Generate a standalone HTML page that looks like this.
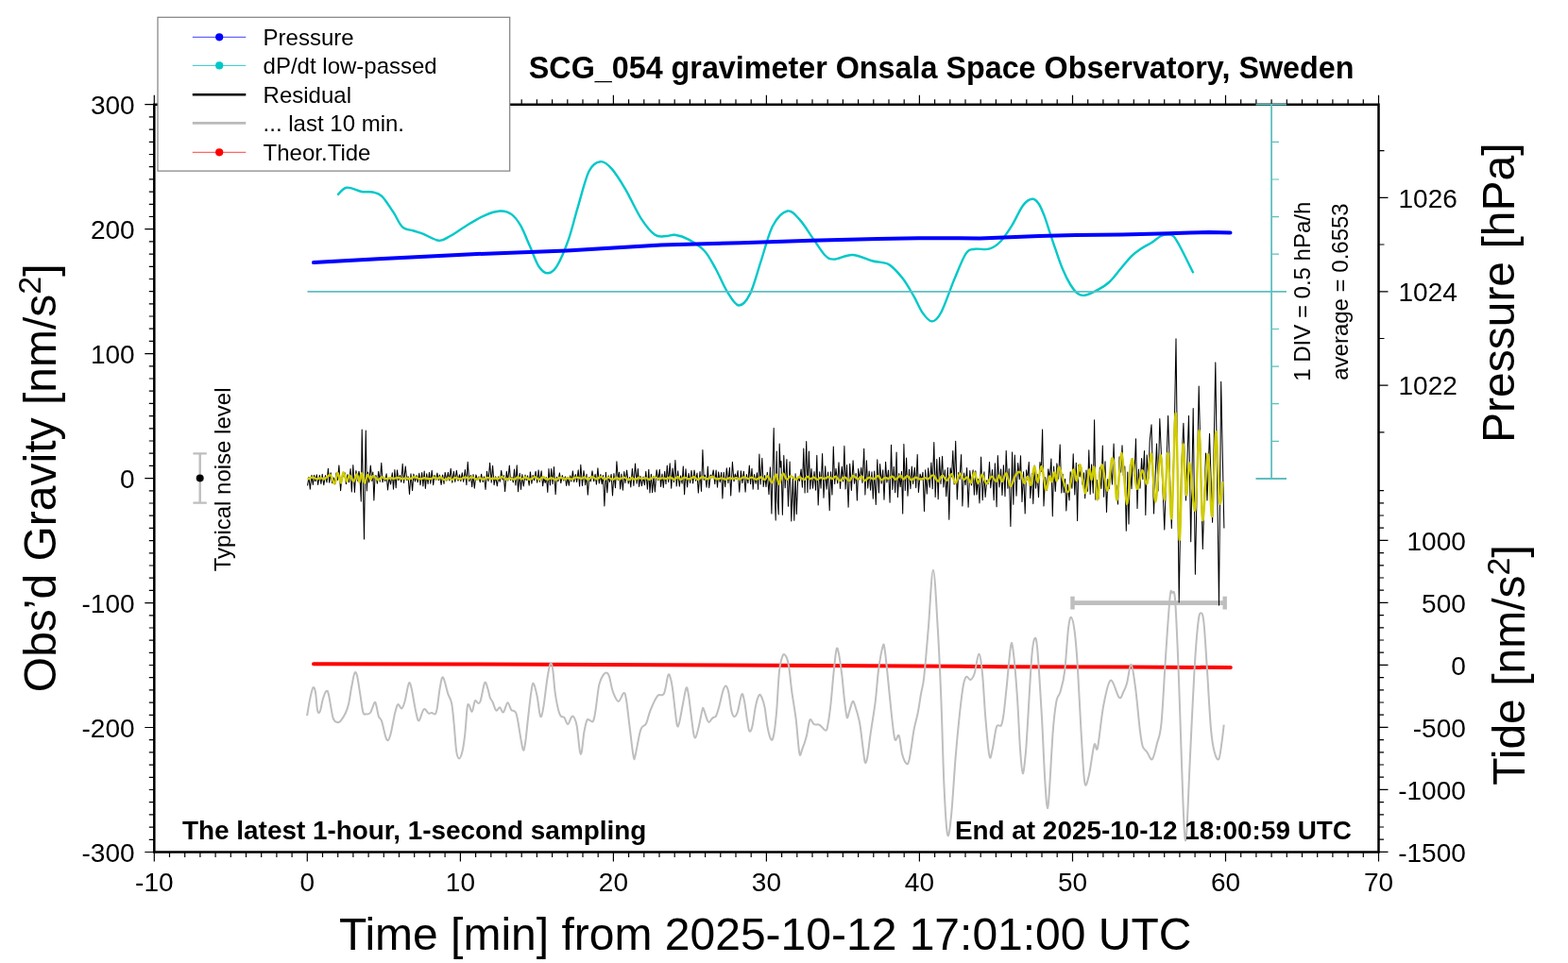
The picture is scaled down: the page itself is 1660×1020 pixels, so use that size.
<!DOCTYPE html><html><head><meta charset="utf-8"><style>html,body{margin:0;padding:0;background:#fff;}svg{display:block;}</style></head><body>
<svg width="1660" height="1020" viewBox="0 0 1660 1020" font-family="Liberation Sans, Arial, Helvetica, sans-serif">
<rect width="1660" height="1020" fill="#fff"/>
<g stroke="#bebebe" stroke-width="2.4" fill="none"><path d="M211.7 480.4V532.6M204.4 480.4H218.8M204.4 532.6H218.8"/></g>
<circle cx="211.7" cy="506.4" r="4" fill="#000"/>
<text transform="translate(243.7,605.3) rotate(-90)" font-size="24">Typical noise level</text>
<g fill="#bebebe"><rect x="1135" y="636.2" width="162" height="4.8"/><rect x="1133.3" y="631.7" width="4.4" height="13.8"/><rect x="1294.5" y="631.7" width="4.4" height="13.8"/></g>
<polyline points="325.5,514.3 327,505.4 328.3,518.3 330,503.2 331.3,513.5 332.6,503.3 333.8,509.8 335.3,502.8 336.6,513.5 338.3,503.4 339.9,512.4 341.2,502.3 342.8,513.7 344.5,503.5 346,511 347.4,496.3 348.7,511.2 350.1,500.7 351.7,511.6 353.2,505.9 354.8,512.6 356.1,500.9 357.4,508.5 358.9,492.9 360.6,519.8 361.9,505 363.6,504.5 365,500.7 366.4,512.7 367.9,502.7 369.5,510.8 371.1,496.6 372.3,521 373.8,492.5 375.4,521.4 376.9,498.6 378.5,509.4 380,499.2 381,505 382.3,531 383.2,455 384.3,510 385.5,571 386.4,505 387.3,456 388.3,520 389.5,500 390.7,510.9 392.3,493.1 393.8,509.4 394.8,500 395.9,530 397,505 398,503.6 399.4,512.1 400.7,499.3 402.3,510.2 403.8,490.3 405,510.8 406.3,505.4 407.8,509.7 409.1,501.8 410.5,519 411.9,506.1 413.6,513 415.3,500.7 416.5,518.3 417.9,497.6 419.2,516.8 420.5,497.9 421.9,508.8 423.4,503.5 424.8,510.7 426.2,491.3 427.6,511.4 429.2,493.9 430.8,508.6 432.1,504.7 433.5,523.4 435,501.7 436.6,519.6 437.9,502 439.4,509.9 441,503.6 442.2,510.8 443.8,501.3 445,513.8 446.7,500.6 447.9,514.9 449.2,499.1 450.4,517.4 451.7,501.7 453.1,512.5 454.5,500.4 455.8,512.2 457.2,498.3 458.7,513.7 460,503.4 461.5,508.2 462.9,501.1 464.2,508.7 465.4,503.1 467.1,513.5 468.6,503 470,512.5 471.2,500.4 472.9,509.2 474.4,500.3 475.8,509 477.2,496.2 478.8,511.3 480.4,499.4 481.8,510.5 483.3,498.2 484.9,509.3 486.5,502.8 487.8,509.7 489.3,500.8 490.7,510.3 492.4,497.6 493.9,513.6 495.2,489.2 496.8,509.9 498.4,503.4 499.7,515.6 501,502.6 502.3,517.2 503.9,502.9 505.5,508.2 507,504.9 508.3,510.8 509.6,502.2 511.1,510.4 512.5,504.9 514,518.5 515.5,499.2 517,509.7 518.6,490.2 520.2,511.1 521.6,493.3 523.1,513.7 524.7,504.7 526.3,514.8 527.8,504.8 529.3,510.3 530.7,498.4 532,508.1 533.3,503.6 534.6,520.6 536.3,499.2 537.7,509.3 539.3,493.1 540.5,508.4 542,505.6 543.3,511 544.5,497 545.9,513.9 547.2,492.8 548.5,520.7 550.2,501.3 551.5,518.4 552.8,502.5 554.3,515 556,503 557.3,508.6 558.5,503.9 560.2,514.1 561.4,499.9 562.9,512.2 564.2,503.4 565.5,508.8 567.1,499.3 568.7,511.3 570.1,497.9 571.4,510.3 573.1,498.8 574.6,514.8 575.9,506 577.2,511.5 578.5,505.7 579.8,521.5 581,496.5 582.4,513.9 583.7,496.5 585.1,512.6 586.5,494.5 588.1,523.8 589.4,505.2 590.9,509.8 592.4,500.9 593.8,511.6 595.3,503.6 596.8,509.1 598.4,504.9 599.6,514.5 601,505.6 602.3,514.2 603.7,503.8 605,509.9 606.4,498.9 607.7,510.4 609.3,502.5 610.6,510.4 612.2,497.8 613.6,515.1 614.8,492.2 616.5,514.4 618,498.5 619.7,513.7 621,502.3 622.3,524.1 623.8,505.4 625.3,510 627,498.8 628.7,509.8 630.1,502.3 631.4,513.1 632.9,495.7 634.3,512 635.9,502.6 637.2,512.8 638.5,503.6 639.9,536 641.4,500.2 642.8,522 644.2,503.8 645.5,510.5 647.1,502.4 648.5,524.9 649.9,501.6 651.5,516.8 652.9,488.8 654.3,508.5 655.5,500.2 656.7,517.9 658,502.1 659.4,519.3 660.8,499.5 662,511.5 663.6,498.1 665.2,512.2 666.6,505.5 667.8,515.9 669.4,496.4 670.9,514.5 672.5,491.1 674.1,512.2 675.4,496.6 676.6,515.4 678,504.4 679.4,514.6 681,505 682.4,513.7 683.8,499.2 685.4,518.3 686.8,497.2 688,522 689.4,502.3 690.6,521.8 692.1,504.4 693.4,520.9 695.1,497.7 696.8,508.7 698.3,497.3 699.6,515.5 701,502 702.3,516.5 703.7,499.3 705,512.8 706.3,493.1 707.7,510.7 709.2,490.8 710.7,517.3 712,496.1 713.4,510.6 714.9,487.4 716.2,515 717.7,498.8 719.3,515.2 720.6,503.9 722.1,512.1 723.3,493.9 724.6,523.8 726,496.7 727.6,515.9 729.1,501.3 730.6,511.4 732,498.4 733.6,511.9 735,498.1 736.6,509.3 738,501.1 739.3,522.1 741,499.6 742.5,520.4 743.9,476.5 745.2,508.3 746.4,503.1 748.1,516.1 749.3,494.1 750.7,516.8 752.3,503 753.8,505.8 755.2,497.9 756.8,512.6 758.1,498 759.5,516.1 760.7,499.9 762.2,510.7 763.7,500.4 764.9,527.9 766.2,500.2 767.7,515.8 769.3,495.7 770.9,511.6 772.4,495.3 773.7,524.9 775.4,489.2 777,510 778.3,502 779.7,507.4 781.1,498.5 782.8,521.2 784.4,498.7 785.8,511.6 787.4,499.2 789.1,521.1 790.4,502.5 791.9,511.7 793.3,493 794.6,512.7 796,496.2 797.2,518.1 798.5,502.6 800.1,512.2 801.4,500.7 802.6,518.4 803.9,481 805.2,512.9 806.8,485.3 808.2,515.4 809.6,503.5 811,515.6 812.3,500.3 814,523.7 815.4,494.9 816.9,543.9 818.2,490 819.2,453.4 820.2,520 821.2,551 822.2,478 823.2,530 824.2,545 825.2,470 826.2,495 827,488.5 828.4,545.3 829.8,482.4 831.2,516.8 832.9,486.5 834.5,536.2 836.1,489 837.8,552 839.4,506.4 840.8,551.3 842.1,501.7 843.3,544.6 844.8,505.2 846.4,509.5 848.1,497 849.4,516.3 850.8,475 852.1,522 853.7,467.5 854.9,521.5 856.4,478.1 857.7,517.9 859,496.6 860.5,517.3 862,499.6 863.6,519.2 864.8,482.2 866.2,535 867.7,499.7 869.1,517.2 870.6,480.6 872,527.2 873.7,493.7 875,518.1 876.6,500 878.2,540.7 879.6,499.8 881,524.1 882.3,473.1 883.7,512.6 885,496.3 886.7,511.9 888,489.8 889.5,517.5 891.2,494.3 892.6,510.1 893.9,472.4 895.1,518 896.5,492.6 898.1,537.2 899.7,491.3 901.4,519.5 903.1,487.7 904.5,512.3 906.2,501.4 907.4,530.1 908.7,496.6 910.2,508 911.8,495.2 913,511.4 914.7,475.3 915.9,524.1 917.4,487.8 918.7,517.1 920.2,499.1 921.6,519.3 923,499.8 924.3,528.2 925.7,499 927.3,534.5 928.8,486.8 930.4,521.9 931.6,491.6 933.2,512.1 934.7,497.7 936,529.2 937.6,489.3 938.9,511 940.5,498 942.1,532.2 943.5,471.2 944.9,518.5 946.3,494.3 947.7,521.8 949.1,479 950.4,526.6 951.8,501.6 953.2,515.7 954.5,499.4 955.7,544 956.9,470.4 958.3,519.4 959.6,485.1 961,525.2 962.5,497.2 963.9,517.6 965.3,494 966.6,512.4 968.3,495.2 969.7,516.6 971.2,481.4 972.4,521.4 974.1,502.1 975.8,508 977,500.2 978.5,541.6 979.7,497.7 981.3,523.1 982.7,495.8 984.3,516.3 985.9,490 987.2,517.8 988.8,468.5 990.2,526.4 991.8,486.4 993.2,528.7 994.6,484.5 996,512.4 997.6,483.3 998.9,516 1000.3,497.8 1001.8,525.6 1003.3,495.3 1004.8,550.3 1006.1,495.7 1007.5,505 1008.8,477.5 1010.2,513 1011.7,467.2 1013.3,528.9 1014.7,500.6 1016,507.5 1017.6,481.5 1018.9,535.9 1020.5,501.1 1022.1,513.7 1023.6,495.6 1025.1,537.2 1026.8,498.5 1028.5,513.9 1030.1,497.7 1031.4,524.1 1032.8,498.8 1034,523.9 1035.4,507.4 1037,532.9 1038.6,484.1 1040.2,529.7 1041.9,499.8 1043.1,526.5 1044.7,508.9 1046.1,512.8 1047.5,489.4 1048.8,516.8 1050.5,497.5 1052.2,529.8 1053.4,490.7 1055.1,536.8 1056.3,482.5 1058,516 1059.6,496.9 1061,524.5 1062.4,492.8 1064,525.8 1065.2,477.4 1066.9,517.3 1068.2,496.6 1069.9,557.5 1071.6,478.9 1072.8,534.3 1074.3,482 1076,525.3 1077.7,490.6 1079.3,507.7 1080.5,482.7 1082,531.4 1083.6,499.8 1085.2,543.9 1086.6,497.8 1087.8,508.3 1089.3,489.4 1090.8,527.5 1092.5,501.5 1093.8,533.6 1095.2,493 1096.5,517.1 1098.1,502.2 1099.5,526.8 1101,489.6 1102.3,499.4 1103.6,454.9 1105,536 1106.6,505.6 1108.2,519.6 1109.8,496.7 1111.3,507.5 1112.9,485.9 1114.3,546.7 1115.6,494.1 1117.3,520.5 1118.9,490.9 1120.6,507.3 1122.2,470.9 1123.8,522.1 1125.1,502.3 1126.3,521.6 1127.6,507.3 1128.8,540.9 1130.3,513.1 1132,529.9 1133.2,499.8 1134.9,517.3 1136.2,480.7 1137.8,524 1139.3,490.2 1140.6,551.6 1141.8,492.6 1143.1,504.9 1144.6,494.7 1146,513.2 1147.5,500.8 1148.7,527.8 1150,498 1151.5,520.3 1152.8,476.8 1154.2,523.5 1155.6,491.9 1157.3,522.2 1158.6,444.8 1159.9,529.3 1161.2,508.3 1162.9,528.4 1164.4,494.9 1165.9,517.5 1167.3,472 1168.6,526.2 1170,488.8 1171.5,542.5 1172.8,507.6 1174.4,517.6 1176,494.2 1177.5,513.1 1179.1,470.1 1180.5,515.7 1181.9,514 1183.5,534.1 1185.1,483.7 1186.7,500.2 1188,471.8 1189.3,503.8 1190.8,493.9 1192.3,562.3 1193.8,500 1195,554.9 1196.4,492.3 1198,517.8 1199.2,486 1200.9,504.3 1202.5,464.7 1204,538.4 1205.4,497.1 1207,517.1 1208.6,485.6 1209.9,507.8 1211.5,477.5 1212.8,545.5 1214.2,481.9 1215.9,506.7 1217.2,467.4 1219,449.8 1221.5,543.9 1224.5,470 1226,520 1227.8,443.5 1232.8,561.1 1236.6,440.4 1240.3,559.6 1243,470 1245,358.8 1248.2,638 1250.5,500 1252.9,448.2 1255.5,530 1258.5,440.4 1260.7,573.7 1263.2,432.5 1265.4,608.2 1269.2,409 1273.3,581.5 1276.5,480 1278,530 1280.5,459.2 1283.6,553.3 1286.8,383.9 1290.5,641.1 1292.7,404.3 1295.9,559.6" fill="none" stroke="#000" stroke-width="1.05" stroke-linejoin="round"/>
<path d="M325.5 507.5C326.4 507.2 329.2 505.7 330.8 505.7C332.4 505.6 333.8 507.1 335.3 507.2C336.8 507.3 338.5 506.2 339.9 506.2C341.2 506.2 342 507.6 343.6 507.1C345.3 506.7 348 502.5 349.8 503.4C351.6 504.3 353 513 354.3 512.5C355.6 512 356.4 500.8 357.5 500.7C358.6 500.6 360.1 511.7 361.1 511.6C362.1 511.5 362.4 500.6 363.4 500.3C364.4 500 365.9 509.2 367 509.7C368.1 510.2 368.9 503.4 370.1 503.4C371.3 503.4 372.9 509.9 374.2 509.7C375.5 509.5 376.8 501.9 377.8 502.1C378.9 502.3 379.6 510.9 380.5 510.7C381.4 510.5 382.3 501 383.2 501.2C384.1 501.4 384.9 511.3 385.9 511.6C386.9 511.9 388 503.6 389.1 503C390.2 502.4 391.3 507.8 392.3 507.9C393.3 508 393.8 503.9 395 503.9C396.2 503.9 398.5 507.2 399.5 507.9C400.5 508.6 400.4 508.6 401.2 508.2C402 507.8 403.2 505.6 404.3 505.4C405.5 505.3 406.5 507 408 507.1C409.5 507.2 411.9 506.3 413.4 506.2C414.9 506.1 415.6 506.8 417 506.8C418.5 506.7 420.5 505.9 422 506C423.6 506.1 424.9 507.2 426.2 507.2C427.4 507.3 428.3 506.2 429.5 506.2C430.7 506.3 432 507.4 433.5 507.3C435.1 507.1 437.2 505.2 439 505.2C440.7 505.2 442.4 507.1 444.2 507.3C445.9 507.4 447.5 506.2 449.3 506.2C451.1 506.2 453 507.3 454.8 507.3C456.5 507.2 458.4 505.8 459.7 505.8C461.1 505.8 461.8 507.2 462.9 507.1C464 507.1 465.2 505.3 466.5 505.5C467.8 505.7 469.2 508 470.6 508.2C472.1 508.3 473.8 506.2 475.1 506.2C476.4 506.2 477.3 508.1 478.5 508.1C479.6 508.1 480.6 506.1 482.1 506C483.6 505.8 485.7 507.3 487.4 507.2C489.2 507.2 491.2 505.5 492.6 505.5C494.1 505.4 494.8 507.1 495.9 507C497 507 498.1 505.2 499.5 505.4C500.9 505.5 503.1 507.6 504.6 507.7C506 507.9 506.8 506.2 508 506.2C509.2 506.2 510.2 507.7 511.6 507.7C512.9 507.6 514.8 506 516.1 505.9C517.4 505.8 518.3 506.9 519.6 507C520.9 507.1 522.4 506.5 523.7 506.5C525.1 506.4 526.3 507.1 527.6 506.9C529 506.7 530.1 505 531.6 505.1C533 505.3 534.9 507.6 536.2 507.8C537.5 508.1 538.1 506.5 539.5 506.5C541 506.5 543.4 508 544.8 507.8C546.2 507.7 546.6 505.5 547.9 505.4C549.2 505.4 551.4 507.4 552.7 507.4C554 507.4 554.5 505.5 555.9 505.5C557.3 505.6 559.4 508 561.1 507.9C562.8 507.8 564.5 505.1 566.1 505.1C567.7 505.1 569.4 508.1 570.8 508.1C572.3 508.1 573.5 505.3 574.9 505.3C576.3 505.2 577.8 507.6 579.3 507.7C580.8 507.9 582.3 506.2 583.8 506.3C585.3 506.3 586.8 508.3 588.4 508.2C589.9 508.1 591.6 505.8 593.2 505.7C594.7 505.6 596.4 507.4 597.6 507.5C598.9 507.6 599.6 506.2 600.8 506.2C602.1 506.2 603.8 507.7 605.3 507.6C606.9 507.5 608.4 505.7 610.1 505.6C611.8 505.5 613.9 506.8 615.4 506.8C616.9 506.8 618 505.2 619.1 505.4C620.3 505.6 621.3 508.1 622.6 508.1C623.8 508 625.2 505.3 626.7 505.1C628.1 505 629.7 507.2 631.3 507.2C633 507.2 634.9 505 636.4 505.1C637.9 505.2 639.1 507.6 640.3 507.7C641.5 507.8 642.2 505.6 643.7 505.6C645.1 505.6 647.3 507.8 648.8 507.9C650.3 507.9 651.2 506.1 652.5 506C653.7 505.9 654.8 507.3 656.2 507.3C657.5 507.2 659.1 505.5 660.7 505.6C662.3 505.8 664.4 508.1 665.8 508.2C667.2 508.3 668 506.2 669 506.2C670.1 506.1 671 507.8 672.1 507.9C673.3 507.9 674.7 506.4 675.9 506.2C677.1 506 677.8 506.9 679.2 506.9C680.6 506.9 682.9 506.2 684.3 506.4C685.7 506.5 686.1 507.9 687.4 507.8C688.7 507.6 690.3 505.5 692 505.4C693.7 505.3 695.8 506.8 697.4 507C699 507.1 700.2 506.4 701.6 506.4C703 506.4 704.4 507.1 705.8 507C707.1 506.9 708.1 505.7 709.4 505.8C710.8 505.9 712.4 507.8 713.7 507.7C715.1 507.6 716.5 505.2 717.7 505.2C718.9 505.3 719.9 508.1 720.9 508.1C722 508.2 722.8 505.8 724.3 505.7C725.7 505.5 727.8 507.5 729.5 507.5C731.3 507.4 733.2 505.2 734.7 505.2C736.3 505.3 737.4 507.8 738.9 507.8C740.4 507.8 742.1 505.3 743.7 505.2C745.3 505.1 746.8 507.3 748.5 507.3C750.2 507.2 752.2 505 753.9 505C755.7 505 757.2 507.2 758.9 507.4C760.6 507.6 762.5 506.3 764.1 506.4C765.6 506.4 766.8 507.7 768.2 507.7C769.6 507.6 771.2 506.3 772.4 506.2C773.6 506.1 774.4 507 775.5 507C776.7 507 778.2 506.1 779.4 506.2C780.6 506.3 781.3 507.8 782.8 507.6C784.2 507.5 786.3 505.5 787.9 505.4C789.4 505.3 790.8 507 792.1 507.1C793.4 507.1 794.2 505.5 795.6 505.6C797 505.7 798.8 507.8 800.5 507.8C802.1 507.8 804.1 505.5 805.6 505.5C807.1 505.6 808.3 508.2 809.5 508C810.8 507.8 811.7 503.9 813 504.3C814.3 504.8 815.9 511.3 817.4 511C818.8 510.7 820.5 502.2 821.7 502.5C822.9 502.8 823.6 512.8 824.8 512.7C825.9 512.5 827.4 502.5 828.8 501.7C830.1 500.9 831.6 507.4 833 507.8C834.4 508.2 835.7 504.1 837.3 504.1C838.9 504.2 841.2 507.8 842.6 508C844.1 508.2 844.5 505.1 846 505.2C847.4 505.2 849.8 508.2 851.2 508.1C852.7 508.1 853.6 504.9 854.7 504.8C855.8 504.6 856.9 507.1 858 507.2C859.2 507.4 860.3 505.4 861.5 505.5C862.7 505.6 864.1 507.9 865.3 507.9C866.5 508 867.3 506.1 868.6 506C869.8 505.8 871.4 507.1 872.8 506.9C874.3 506.8 875.8 505.1 877.2 505.1C878.6 505.1 880 507.2 881.2 507.1C882.5 507 883.4 504.4 884.7 504.7C886 505 887.5 508.8 889 509C890.6 509.1 892.5 505.4 894.2 505.5C895.9 505.5 897.7 509.3 899.2 509.1C900.7 508.9 901.5 504.3 903 504C904.5 503.8 907 507.3 908.5 507.4C910 507.4 911 504.1 912.1 504.4C913.2 504.7 914 508.8 915.3 509C916.7 509.2 918.7 505.9 920.3 505.6C921.9 505.4 923.5 507.6 925 507.3C926.6 507.1 928.4 503.8 929.7 504C931.1 504.1 931.8 508 933 508.4C934.3 508.7 936 506.2 937.3 505.9C938.5 505.7 939.2 507.1 940.5 506.9C941.7 506.7 943.5 504.6 944.8 504.8C946.1 504.9 946.8 507.9 948.2 507.7C949.6 507.5 951.9 503.8 953.3 503.7C954.7 503.7 955.3 507.4 956.5 507.5C957.8 507.5 959.3 504 960.7 504.2C962.1 504.4 963.4 508.2 964.9 508.5C966.3 508.7 967.8 506 969.4 505.8C971 505.7 972.8 507.7 974.5 507.7C976.1 507.8 977.9 506.2 979.3 506.1C980.7 506 981.3 507.7 982.7 507.2C984.2 506.8 986.2 503 988 503.4C989.7 503.8 991.5 509.7 993.1 509.7C994.7 509.8 996 503.7 997.6 503.6C999.2 503.5 1001 509.1 1002.6 508.9C1004.3 508.6 1006 501.6 1007.5 502.1C1009 502.6 1010 511.8 1011.5 511.7C1013 511.7 1014.8 502.4 1016.2 501.8C1017.7 501.2 1018.9 507.4 1020.3 508C1021.6 508.6 1022.8 504.9 1024.1 505.5C1025.4 506 1026.8 512.1 1028 511.3C1029.2 510.4 1030.3 500.2 1031.6 500.3C1032.8 500.4 1034.1 511.2 1035.4 511.6C1036.8 512.1 1038.3 502.7 1039.8 502.8C1041.2 502.9 1042.7 511.9 1044.4 512.2C1046 512.5 1048.1 505 1049.8 504.6C1051.5 504.2 1053.3 510.2 1054.7 510C1056 509.8 1056.7 503.5 1057.8 503.5C1058.8 503.5 1059.8 510.5 1061 510.1C1062.3 509.8 1063.9 500.6 1065.4 501.4C1066.9 502.2 1068.3 514.6 1069.8 515.1C1071.4 515.5 1073.2 506.4 1074.8 503.9C1076.5 501.4 1078.4 498.9 1080 500.2C1081.6 501.5 1083.1 510.9 1084.4 511.7C1085.7 512.5 1086.7 504.4 1087.9 504.7C1089.1 505 1090.3 515.3 1091.5 513.5C1092.7 511.7 1093.8 494.6 1095 494.1C1096.2 493.7 1097.2 510.8 1098.5 510.8C1099.8 510.8 1101.4 492.8 1102.9 494.1C1104.4 495.4 1106 517 1107.3 518.8C1108.6 520.6 1109.9 506.2 1110.9 504.7C1111.9 503.2 1112.6 510.8 1113.5 510C1114.4 509.2 1115.3 500.3 1116.2 500.2C1117.1 500.1 1117.9 510 1118.8 509.1C1119.7 508.2 1119.5 492.9 1121.4 495C1123.3 497.1 1127.8 521 1130.3 521.4C1132.8 521.8 1134.8 499.7 1136.4 497.6C1138 495.6 1138.8 510 1140 509.1C1141.2 508.2 1142 490.1 1143.5 492.3C1145 494.5 1147.2 521.4 1148.8 522.3C1150.4 523.2 1152 500 1153.2 497.6C1154.4 495.2 1154.9 508.6 1155.8 508.2C1156.7 507.8 1157.5 491.5 1158.5 495C1159.5 498.5 1160.7 529.8 1162 529.3C1163.3 528.8 1164.6 493.9 1166.4 492.3C1168.2 490.7 1170.8 520.6 1172.6 519.6C1174.4 518.6 1175.8 489.9 1177 486.1C1178.2 482.3 1179.1 489.8 1180 497C1180.9 504.2 1181.3 532.4 1182.6 529.5C1183.9 526.6 1185.9 479.2 1187.6 479.9C1189.3 480.6 1191.2 532.7 1193 533.8C1194.8 534.9 1196.5 489 1198.3 486.3C1200.1 483.6 1201.9 515.6 1203.7 517.6C1205.5 519.6 1207.3 499.1 1209.1 498.2C1210.9 497.3 1212.9 515.1 1214.5 512.2C1216.1 509.3 1217.5 477.6 1218.9 480.9C1220.4 484.1 1221.6 531.5 1223.2 531.7C1224.8 531.9 1227 482.4 1228.6 482C1230.2 481.6 1231.6 529.9 1232.9 529.5C1234.2 529.1 1235.3 476.7 1236.6 479.9C1237.8 483.1 1239 555.9 1240.4 548.9C1241.8 541.9 1243.4 434 1244.8 437.8C1246.2 441.6 1247.3 566 1248.6 571.6C1249.8 577.2 1251.1 479.1 1252.3 471.2C1253.5 463.3 1254.8 520.9 1256 524.1C1257.2 527.4 1257.9 488 1259.4 490.7C1261 493.4 1263.6 546.1 1265.3 540.3C1267 534.5 1268.3 454.3 1269.6 456.1C1270.9 457.9 1271.7 547 1273.2 551.1C1274.7 555.2 1276.9 481.6 1278.6 480.9C1280.3 480.2 1281.8 550.8 1283.2 546.8C1284.7 542.8 1286 459.7 1287.3 457.2C1288.6 454.7 1290 522.9 1291.2 531.7C1292.4 540.5 1293.9 513.7 1294.4 510.1" fill="none" stroke="#d0cc00" stroke-width="2.4" stroke-linejoin="round"/>
<polyline points="332,703.3 489.5,703.4 760,704.5 869,705 970,705.5 1061.7,706.2 1200,706.6 1302.8,707" fill="none" stroke="#ff0000" stroke-width="4" stroke-linecap="round"/>
<path d="M325.1 758.2C325.6 755.1 327.2 744.7 328.3 739.7C329.4 734.7 330.6 729.3 331.5 728.2C332.4 727.1 333.3 729.5 334 733.3C334.7 737.1 335.3 747.6 335.9 751.2C336.5 754.8 337.1 755.2 337.8 755C338.5 754.8 339.2 752.2 339.8 749.9C340.4 747.6 340.8 744 341.7 741C342.6 738 344.4 733 345.5 732.1C346.6 731.2 346.8 731.2 348 735.9C349.2 740.6 351 755.2 352.5 760.1C354 765 355.6 764.5 357 765C358.4 765.5 359.3 765 360.8 763.3C362.3 761.6 364.5 758 365.9 755C367.3 752 368 750.1 369.1 745.4C370.2 740.7 371.2 732.4 372.3 727C373.4 721.6 374.4 714.8 375.4 712.9C376.3 711 377 711.9 378 715.5C379 719.1 380.1 728.1 381.2 734.6C382.3 741.1 383.3 750.8 384.4 754.4C385.5 758 386.3 756.2 387.6 756.3C388.9 756.4 390.5 757 392 755C393.5 753 395.4 745.5 396.5 744.2C397.6 742.9 397.7 745 398.4 747.4C399.1 749.8 399.9 756 400.9 758.8C401.8 761.5 402.7 759.8 404.1 763.9C405.5 768 407.7 780.5 409.2 783.1C410.7 785.7 411.6 783.9 413.1 779.2C414.6 774.5 416.8 760.5 418.2 755C419.6 749.5 420.1 746.9 421.3 746.1C422.5 745.4 424 750.9 425.2 750.5C426.4 750.1 427.2 747.6 428.4 743.5C429.6 739.4 431.2 729 432.2 725.7C433.1 722.4 433.5 722.9 434.1 723.8C434.7 724.6 434.9 725.6 436 730.8C437.1 736 439.2 749.6 440.5 755C441.8 760.4 442.2 763.9 443.6 763.3C445 762.7 447 752.5 448.7 751.2C450.4 749.9 452.4 755 453.8 755.6C455.2 756.2 455.8 754.9 457 755C458.2 755.1 459.9 757.1 460.9 756.3C461.9 755.4 461.9 754.8 462.8 749.9C463.7 745 464.9 732.4 466 727C467.1 721.6 467.7 716.1 469.1 717.4C470.5 718.7 472.7 730 474.2 734.6C475.7 739.2 477 739.5 478.1 744.8C479.2 750.1 479.8 758 480.6 766.5C481.5 775 482.2 789.6 483.2 795.8C484.1 801.9 485.2 803.4 486.3 803.4C487.4 803.4 488.5 799.8 489.5 795.8C490.5 791.8 491.2 786.9 492.1 779.2C493 771.6 493.9 755.3 494.6 749.9C495.3 744.5 495.6 746.1 496.5 746.7C497.4 747.3 498.6 754.4 499.7 753.7C500.8 753 501.8 743.8 502.9 742.3C504 740.8 505.1 744.8 506.1 744.8C507.1 744.8 507.5 745.9 508.7 742.3C509.9 738.7 511.9 725.2 513.2 723.1C514.5 721 515.5 726.8 516.4 729.5C517.3 732.2 518 736.8 518.9 739.1C519.8 741.4 520.4 741.3 521.5 743.5C522.6 745.7 524 751.5 525.3 752.5C526.6 753.5 527.8 749 529.1 749.3C530.4 749.6 531.5 755.2 532.9 754.4C534.3 753.5 536 744.6 537.4 744.2C538.8 743.8 539.9 750.2 541.2 751.8C542.5 753.4 544 752.3 545.1 753.7C546.2 755.1 546.2 753.6 547.6 760.1C549 766.6 551.9 787.9 553.3 792.6C554.7 797.3 554.9 793.6 555.9 788.2C556.9 782.8 558 769.2 559.1 760.1C560.2 751 561.3 739.3 562.3 733.3C563.2 727.2 563.8 723.1 564.8 723.8C565.8 724.4 567.5 732 568.6 737.2C569.7 742.4 570.5 751.4 571.2 755C572 758.6 572.4 760.1 573.1 758.8C573.8 757.5 574.5 754.2 575.6 747.4C576.7 740.6 578.3 725.5 579.5 718C580.7 710.5 581.8 704.2 582.7 702.7C583.7 701.2 584.4 703.8 585.2 709.1C586.1 714.4 586.7 727.2 587.8 734.6C588.9 742 590.5 749.7 591.6 753.7C592.7 757.7 593.2 757.8 594.1 758.8C595 759.8 596.1 758.5 597.3 759.9C598.5 761.3 599.8 767.2 601.1 767.1C602.4 767 603.9 760.8 605 759.5C606.1 758.2 606.5 757.9 607.5 759.5C608.5 761.1 609.6 763 610.7 769C611.8 775 613 791.2 613.9 795.8C614.8 800.4 615 799.8 615.8 796.4C616.5 793 617.4 781 618.4 775.4C619.4 769.8 620.5 764.8 621.5 762.7C622.5 760.6 623 762.5 624.1 762.7C625.2 762.9 626.8 765.6 627.9 763.9C629 762.2 629.4 759 630.5 752.5C631.6 746 632.9 731.4 634.3 725.1C635.7 718.8 637.3 717 638.7 714.9C640.1 712.8 641.5 712.4 642.6 712.7C643.7 713 644.1 713.5 645.1 716.8C646.1 720.1 647.3 728.4 648.9 732.7C650.5 737.1 652.8 742.7 654.7 742.9C656.6 743.1 659 734.3 660.4 734C661.8 733.7 661.9 734.7 663 741C664.1 747.3 665.5 761.6 666.8 771.6C668.1 781.6 669.6 796.1 670.6 800.9C671.6 805.7 671.2 805 672.5 800.3C673.8 795.6 676.4 778.5 678.3 772.9C680.2 767.3 682.3 769.9 684 766.5C685.7 763.1 686.5 757.4 688.5 752.5C690.5 747.6 693.7 740.2 696.1 737.2C698.5 734.2 701 738.4 702.9 734.7C704.8 731 706.2 717.4 707.4 714.9C708.6 712.4 709.4 717 710.3 720C711.1 723 711.8 727.8 712.5 733.2C713.2 738.6 714 746.5 714.7 752.4C715.4 758.3 716.2 766.3 716.9 768.5C717.6 770.7 718.1 769.3 719.1 765.6C720.1 761.9 721.6 752.6 722.8 746.5C724 740.4 725.5 730.8 726.5 728.8C727.5 726.8 727.9 730 728.7 734.7C729.6 739.4 730.6 749.4 731.6 756.8C732.6 764.1 733.7 774.9 734.6 778.8C735.5 782.7 735.9 781.8 736.8 780.3C737.6 778.8 738.6 774.6 739.7 770C740.8 765.4 742.5 755.6 743.4 752.4C744.3 749.2 744 749.3 744.9 750.9C745.8 752.5 747.5 759.6 748.5 761.9C749.5 764.2 749.7 765.1 750.7 764.9C751.7 764.6 753.2 761.5 754.4 760.4C755.6 759.3 756.9 760.5 758.1 758.2C759.3 755.9 760.6 750.9 761.8 746.5C763 742.1 764.3 735.1 765.4 731.8C766.5 728.5 767.4 726.4 768.4 726.6C769.4 726.8 770.3 728.9 771.3 733.2C772.3 737.5 773.3 748.1 774.3 752.4C775.3 756.7 776.1 758.8 777.2 759C778.3 759.2 779.5 757.7 780.9 753.8C782.2 749.9 784.1 737.1 785.3 735.4C786.5 733.7 787.2 738.7 788.2 743.5C789.2 748.3 790.3 759 791.2 764.1C792.1 769.2 792.5 773.4 793.4 774.4C794.2 775.4 795.2 774.4 796.3 770C797.4 765.6 798.8 753.5 800 747.9C801.2 742.3 802.6 737.7 803.7 736.2C804.8 734.7 805.6 736.9 806.6 739.1C807.6 741.3 808.6 744.2 809.6 749.4C810.6 754.5 811.4 764.4 812.5 770C813.6 775.6 815.1 781.7 816.2 783.2C817.3 784.7 818.1 783.7 819.1 778.8C820.1 773.9 821.1 765.1 822.1 753.8C823.1 742.5 823.9 721.1 825 711.2C826.1 701.3 827.5 696.9 828.7 694.3C829.9 691.7 831.3 693.6 832.4 695.7C833.5 697.8 834.3 700.8 835.3 706.8C836.3 712.8 837 722.7 838.2 731.8C839.4 740.9 841.2 750.2 842.6 761.2C844 772.2 845.2 792.5 846.3 797.9C847.4 803.3 848.1 796.4 849.3 793.5C850.5 790.6 852.4 785.4 853.7 780.3C855.1 775.1 856 764.8 857.4 762.6C858.8 760.4 860.1 766.2 861.8 767.1C863.5 768 865.5 766.7 867.6 767.8C869.7 768.9 872.8 773.8 874.3 773.7C875.8 773.6 875.6 771.6 876.5 767.1C877.4 762.6 878.4 755.3 879.4 746.5C880.4 737.7 881.4 723.9 882.4 714.1C883.4 704.3 884.6 691 885.6 687.6C886.6 684.2 887.3 689.1 888.2 693.5C889.1 697.9 890.5 708.6 891.2 714.1C891.9 719.6 892 721.8 892.5 726.7C893 731.6 893.5 737.8 894.2 743.3C894.9 748.8 895.9 758.3 896.7 760C897.5 761.7 898.2 756.1 899.2 753.3C900.2 750.5 901.5 744.4 902.5 743.3C903.5 742.2 903.8 743.1 905 746.7C906.2 750.3 908.6 757.8 910 765C911.4 772.2 912.3 782.9 913.3 790C914.3 797.1 915 805.5 915.8 807.5C916.6 809.5 917.3 806.8 918.3 801.7C919.3 796.6 920.3 786.4 921.7 776.7C923.1 767 925.3 754.4 926.7 743.3C928.1 732.2 928.7 719.9 930 710C931.3 700.1 933.6 687.8 934.7 684.2C935.8 680.6 935.8 682.6 936.7 688.3C937.6 694 938.8 706.3 940 718.3C941.2 730.2 943 749.2 944.2 760C945.5 770.8 946.2 780.1 947.5 783.3C948.8 786.5 950.5 776.7 951.7 779.2C953 781.7 953.8 793.4 955 798.3C956.2 803.1 958 807.2 959.2 808.3C960.5 809.4 961.1 810.8 962.5 805C963.9 799.2 966 781.6 967.5 773.3C969 765 970.5 761.4 971.7 755C973 748.6 973.9 741.2 975 735C976.1 728.8 976.9 729 978.2 717.5C979.5 706 981.2 684.9 982.8 665.9C984.4 646.9 986.2 603.7 987.9 603.7C989.6 603.7 991.4 642.9 992.8 665.9C994.2 688.9 995.3 713.9 996.4 741.8C997.5 769.6 998.4 809.3 999.5 833C1000.6 856.7 1001.8 879 1003.1 884C1004.4 889 1005.7 876.9 1007.1 863.3C1008.5 849.7 1010.1 820.8 1011.6 802.6C1013.1 784.4 1014.8 766.9 1016.2 754C1017.6 741.1 1018.8 731.2 1020 725C1021.2 718.8 1022 717.5 1023.3 716.7C1024.5 715.9 1026.1 720.6 1027.5 720C1028.9 719.4 1030.2 717.9 1031.7 713.3C1033.2 708.7 1034.9 692.5 1036.3 692.5C1037.7 692.5 1038.8 702 1040 713.3C1041.2 724.5 1042 745.4 1043.3 760C1044.5 774.6 1046.2 795.2 1047.5 800.8C1048.8 806.3 1049.5 798.4 1050.8 793.3C1052 788.2 1053.5 774.2 1055 770C1056.5 765.8 1058.8 770.5 1060 768.3C1061.2 766.1 1061.5 763.6 1062.5 756.7C1063.5 749.8 1064.5 738.7 1065.8 726.7C1067 714.8 1068.9 691.4 1070 685C1071.1 678.6 1071.4 680 1072.5 688.3C1073.6 696.6 1075.5 717.5 1076.7 735C1078 752.5 1079 779.3 1080 793.3C1081 807.3 1081.8 818.4 1082.8 819.2C1083.8 820 1085 806.1 1085.8 798.3C1086.6 790.5 1086.5 789.3 1087.6 772.3C1088.7 755.3 1090.9 712.2 1092.2 696.3C1093.5 680.3 1094.2 678.1 1095.2 676.6C1096.2 675.1 1096.9 673.8 1098.2 687.2C1099.5 700.6 1101.5 735.3 1102.8 757.1C1104.1 778.9 1104.9 801.8 1105.8 817.8C1106.7 833.8 1107.5 848.2 1108.3 852.8C1109.1 857.4 1109.3 858.6 1110.4 845.2C1111.5 831.8 1113.5 789.5 1114.9 772.3C1116.3 755.1 1117.3 748.5 1118.6 741.9C1119.9 735.3 1121.1 737.9 1122.5 732.8C1123.9 727.7 1125.7 722.6 1127.1 711.5C1128.5 700.4 1129.8 675.5 1131 665.9C1132.2 656.3 1133 653.3 1134.1 653.8C1135.2 654.3 1136.6 660.4 1137.7 669C1138.8 677.6 1139.7 688.2 1140.8 705.4C1141.9 722.6 1143.2 751.8 1144.4 772.3C1145.7 792.8 1146.9 820.4 1148.3 828.5C1149.7 836.6 1151.2 827.5 1152.9 820.9C1154.6 814.3 1156.9 793.8 1158.4 789C1159.9 784.2 1160.4 798.8 1162 792C1163.6 785.2 1165.8 759.9 1168.1 748C1170.4 736.1 1172.9 722.1 1175.7 720.6C1178.5 719.1 1182.5 736.8 1184.8 738.8C1187.1 740.8 1188 735.3 1189.4 732.8C1190.8 730.3 1191.6 728.5 1193 723.7C1194.4 718.9 1196.1 702.9 1197.6 703.9C1199.1 704.9 1200.7 718.3 1202.2 729.7C1203.7 741.1 1205.5 762.2 1206.7 772.3C1208 782.4 1208.4 786.5 1209.7 790.5C1211 794.5 1212.6 794.3 1214.3 796.6C1216 798.9 1218 805.7 1219.8 804.2C1221.6 802.7 1223.3 793.8 1224.9 787.5C1226.5 781.2 1228 781.4 1229.5 766.2C1231 751 1232.5 718.6 1234 696.3C1235.5 674 1237.4 643.9 1238.6 632.5C1239.8 621.1 1240.1 627.5 1241 628C1241.9 628.5 1243 621.7 1244.1 635.6C1245.2 649.5 1246.6 683.7 1247.7 711.5C1248.8 739.3 1249.8 774.7 1250.8 802.6C1251.8 830.5 1252.9 865.8 1253.8 879C1254.7 892.2 1255.2 894.7 1256.2 882C1257.2 869.3 1258.5 831 1259.9 802.6C1261.3 774.2 1263 735.3 1264.4 711.5C1265.8 687.7 1267.2 670.3 1268.4 659.9C1269.6 649.5 1270.4 649.2 1271.4 649.2C1272.4 649.2 1273.4 649.5 1274.5 659.9C1275.6 670.3 1276.8 692.8 1278.1 711.5C1279.3 730.2 1280.7 758.1 1282 772.3C1283.3 786.5 1284.3 791.3 1285.7 796.6C1287.1 801.9 1288.9 805.7 1290.2 804.2C1291.5 802.7 1292.4 793.6 1293.3 787.5C1294.2 781.4 1295.3 771 1295.7 767.7" fill="none" stroke="#bebebe" stroke-width="2" stroke-linejoin="round"/>
<path d="M357.3 206.6C358.9 205.3 362.8 199.3 367 198.7C371.2 198.1 378.1 202.2 382.7 203C387.3 203.8 391.1 202.7 394.7 203.5C398.3 204.3 400.7 204.3 404.3 207.8C407.9 211.3 412.8 219.3 416.4 224.7C420 230.1 422.4 237.1 426 240.4C429.6 243.7 434.4 243.3 438 244.5C441.6 245.7 443.3 245.9 447.7 247.6C452.1 249.3 459.8 254.4 464.6 254.8C469.4 255.2 471.8 252.6 476.6 250C481.4 247.4 487.5 242.8 493.5 239.2C499.5 235.6 506.8 230.9 512.8 228.3C518.8 225.7 524.8 223.7 529.6 223.5C534.4 223.3 538.1 224.5 541.7 227.1C545.3 229.7 548.1 233.6 551.3 239.2C554.5 244.8 557.8 253.6 561 260.8C564.2 268 567.4 277.8 570.6 282.5C573.8 287.2 577 289.5 580.2 289.3C583.4 289.1 586.3 287.2 589.9 281.3C593.5 275.4 598.3 263.8 601.9 253.6C605.5 243.4 608 231.9 611.6 219.9C615.2 207.9 619.6 189.4 623.6 181.3C627.6 173.2 631.7 171.6 635.7 171.2C639.7 170.8 643.3 174 647.7 178.9C652.1 183.8 657 191.8 662.2 200.6C667.4 209.4 673.8 223.9 679 231.9C684.2 239.9 689.1 245.8 693.5 248.8C697.9 251.8 702 250 705.5 250C709 250 710.6 248.2 714.5 248.8C718.4 249.4 723.7 250.8 728.9 253.6C734.1 256.4 741 260.5 745.8 265.7C750.6 270.9 753.8 277.8 757.8 285C761.8 292.2 765.9 302.6 769.9 309C773.9 315.4 777.9 323.1 781.9 323.5C785.9 323.9 790 319.4 794 311.4C798 303.4 802 287.3 806 275.3C810 263.3 813.5 247.8 818.1 239.2C822.7 230.6 828.9 224.5 833.7 223.5C838.5 222.5 842.4 228.1 847 233.1C851.6 238.1 857 247.4 861.4 253.6C865.8 259.8 869.9 267 873.5 270.5C877.1 274 878.3 274.7 883.1 274.6C887.9 274.5 895.6 269.7 902.4 270C909.2 270.3 917.7 274.8 924.1 276.5C930.5 278.2 935.8 277.1 941 280.1C946.2 283.1 951 289 955.4 294.6C959.8 300.2 963.9 307.7 967.5 313.9C971.1 320.1 973.9 327.5 977.1 331.9C980.3 336.3 983.5 340.6 986.7 340.4C989.9 340.2 992.4 338.3 996.4 330.7C1000.4 323.1 1006.4 305 1010.8 294.6C1015.2 284.2 1019.3 273.2 1022.9 268.1C1026.5 263 1028.5 264.4 1032.5 263.7C1036.5 263 1042.6 265 1047 263.7C1051.4 262.4 1055 260.1 1059 256C1063 251.9 1067.1 245.6 1071.1 239.2C1075.1 232.8 1079.5 222.2 1083.1 217.5C1086.7 212.8 1090 211.1 1092.7 210.8C1095.5 210.5 1097.5 212.8 1099.6 215.7C1101.7 218.6 1103.5 223.3 1105.5 228.4C1107.5 233.5 1109.4 240.2 1111.4 246.1C1113.4 252 1115 257.2 1117.3 263.7C1119.6 270.2 1122.5 279.1 1125.1 285.3C1127.7 291.5 1130.3 296.8 1132.9 301C1135.5 305.2 1138.2 308.9 1140.8 310.8C1143.4 312.8 1145 313.4 1148.6 312.7C1152.2 312 1158.2 309.2 1162.4 306.9C1166.7 304.6 1170.2 302.6 1174.1 299C1178 295.4 1182 289.9 1185.9 285.3C1189.8 280.7 1194 275.2 1197.6 271.6C1201.2 268 1203.9 266.1 1207.5 263.7C1211.1 261.2 1215.6 259.2 1219.2 256.9C1222.8 254.6 1226 251.4 1229 250C1232 248.6 1234.6 248.5 1236.9 248.6C1239.2 248.7 1240.4 248 1242.7 250.5C1245 253 1247.2 257.2 1250.6 263.7C1254 270.1 1261.2 284.9 1263.3 289.2" fill="none" stroke="#00c8c8" stroke-width="2.4" stroke-linejoin="round"/>
<polyline points="332,278.1 400,274.2 500,269.2 600,265.4 650,262.6 700,259.6 784.3,257.2 859,254.8 929,253.1 972.3,252.2 1037.3,252.4 1100,250 1138.8,249 1187.8,248.6 1236.9,247.3 1260,246.6 1280,246.1 1302.5,246.5" fill="none" stroke="#0000ff" stroke-width="4" stroke-linecap="round"/>
<g stroke="#000" fill="none">
<path stroke-width="2.5" d="M163.3 110.7V902.5H1459.5V110.7H163.3Z"/>
<path stroke-width="1.2" d="M163.3 902.5v10 M163.3 110.7v-10 M179.5 902.5v5.5 M179.5 110.7v-5.5 M195.7 902.5v5.5 M195.7 110.7v-5.5 M211.9 902.5v5.5 M211.9 110.7v-5.5 M228.1 902.5v5.5 M228.1 110.7v-5.5 M244.3 902.5v5.5 M244.3 110.7v-5.5 M260.5 902.5v5.5 M260.5 110.7v-5.5 M276.7 902.5v5.5 M276.7 110.7v-5.5 M292.9 902.5v5.5 M292.9 110.7v-5.5 M309.1 902.5v5.5 M309.1 110.7v-5.5 M325.3 902.5v10 M325.3 110.7v-10 M341.5 902.5v5.5 M341.5 110.7v-5.5 M357.7 902.5v5.5 M357.7 110.7v-5.5 M373.9 902.5v5.5 M373.9 110.7v-5.5 M390.1 902.5v5.5 M390.1 110.7v-5.5 M406.3 902.5v5.5 M406.3 110.7v-5.5 M422.5 902.5v5.5 M422.5 110.7v-5.5 M438.7 902.5v5.5 M438.7 110.7v-5.5 M454.9 902.5v5.5 M454.9 110.7v-5.5 M471.1 902.5v5.5 M471.1 110.7v-5.5 M487.4 902.5v10 M487.4 110.7v-10 M503.6 902.5v5.5 M503.6 110.7v-5.5 M519.8 902.5v5.5 M519.8 110.7v-5.5 M536 902.5v5.5 M536 110.7v-5.5 M552.2 902.5v5.5 M552.2 110.7v-5.5 M568.4 902.5v5.5 M568.4 110.7v-5.5 M584.6 902.5v5.5 M584.6 110.7v-5.5 M600.8 902.5v5.5 M600.8 110.7v-5.5 M617 902.5v5.5 M617 110.7v-5.5 M633.2 902.5v5.5 M633.2 110.7v-5.5 M649.4 902.5v10 M649.4 110.7v-10 M665.6 902.5v5.5 M665.6 110.7v-5.5 M681.8 902.5v5.5 M681.8 110.7v-5.5 M698 902.5v5.5 M698 110.7v-5.5 M714.2 902.5v5.5 M714.2 110.7v-5.5 M730.4 902.5v5.5 M730.4 110.7v-5.5 M746.6 902.5v5.5 M746.6 110.7v-5.5 M762.8 902.5v5.5 M762.8 110.7v-5.5 M779 902.5v5.5 M779 110.7v-5.5 M795.2 902.5v5.5 M795.2 110.7v-5.5 M811.4 902.5v10 M811.4 110.7v-10 M827.6 902.5v5.5 M827.6 110.7v-5.5 M843.8 902.5v5.5 M843.8 110.7v-5.5 M860 902.5v5.5 M860 110.7v-5.5 M876.2 902.5v5.5 M876.2 110.7v-5.5 M892.4 902.5v5.5 M892.4 110.7v-5.5 M908.6 902.5v5.5 M908.6 110.7v-5.5 M924.8 902.5v5.5 M924.8 110.7v-5.5 M941 902.5v5.5 M941 110.7v-5.5 M957.2 902.5v5.5 M957.2 110.7v-5.5 M973.4 902.5v10 M973.4 110.7v-10 M989.6 902.5v5.5 M989.6 110.7v-5.5 M1005.8 902.5v5.5 M1005.8 110.7v-5.5 M1022 902.5v5.5 M1022 110.7v-5.5 M1038.2 902.5v5.5 M1038.2 110.7v-5.5 M1054.4 902.5v5.5 M1054.4 110.7v-5.5 M1070.6 902.5v5.5 M1070.6 110.7v-5.5 M1086.8 902.5v5.5 M1086.8 110.7v-5.5 M1103 902.5v5.5 M1103 110.7v-5.5 M1119.2 902.5v5.5 M1119.2 110.7v-5.5 M1135.5 902.5v10 M1135.5 110.7v-10 M1151.7 902.5v5.5 M1151.7 110.7v-5.5 M1167.9 902.5v5.5 M1167.9 110.7v-5.5 M1184.1 902.5v5.5 M1184.1 110.7v-5.5 M1200.3 902.5v5.5 M1200.3 110.7v-5.5 M1216.5 902.5v5.5 M1216.5 110.7v-5.5 M1232.7 902.5v5.5 M1232.7 110.7v-5.5 M1248.9 902.5v5.5 M1248.9 110.7v-5.5 M1265.1 902.5v5.5 M1265.1 110.7v-5.5 M1281.3 902.5v5.5 M1281.3 110.7v-5.5 M1297.5 902.5v10 M1297.5 110.7v-10 M1313.7 902.5v5.5 M1313.7 110.7v-5.5 M1329.9 902.5v5.5 M1329.9 110.7v-5.5 M1346.1 902.5v5.5 M1346.1 110.7v-5.5 M1362.3 902.5v5.5 M1362.3 110.7v-5.5 M1378.5 902.5v5.5 M1378.5 110.7v-5.5 M1394.7 902.5v5.5 M1394.7 110.7v-5.5 M1410.9 902.5v5.5 M1410.9 110.7v-5.5 M1427.1 902.5v5.5 M1427.1 110.7v-5.5 M1443.3 902.5v5.5 M1443.3 110.7v-5.5 M1459.5 902.5v10 M1459.5 110.7v-10 M163.3 902.5h-10 M163.3 889.3h-5.5 M163.3 876.1h-5.5 M163.3 862.9h-5.5 M163.3 849.7h-5.5 M163.3 836.5h-5.5 M163.3 823.3h-5.5 M163.3 810.1h-5.5 M163.3 796.9h-5.5 M163.3 783.7h-5.5 M163.3 770.5h-10 M163.3 757.3h-5.5 M163.3 744.1h-5.5 M163.3 730.9h-5.5 M163.3 717.7h-5.5 M163.3 704.5h-5.5 M163.3 691.4h-5.5 M163.3 678.2h-5.5 M163.3 665h-5.5 M163.3 651.8h-5.5 M163.3 638.6h-10 M163.3 625.4h-5.5 M163.3 612.2h-5.5 M163.3 599h-5.5 M163.3 585.8h-5.5 M163.3 572.6h-5.5 M163.3 559.4h-5.5 M163.3 546.2h-5.5 M163.3 533h-5.5 M163.3 519.8h-5.5 M163.3 506.6h-10 M163.3 493.4h-5.5 M163.3 480.2h-5.5 M163.3 467h-5.5 M163.3 453.8h-5.5 M163.3 440.6h-5.5 M163.3 427.4h-5.5 M163.3 414.2h-5.5 M163.3 401h-5.5 M163.3 387.8h-5.5 M163.3 374.6h-10 M163.3 361.4h-5.5 M163.3 348.2h-5.5 M163.3 335h-5.5 M163.3 321.8h-5.5 M163.3 308.7h-5.5 M163.3 295.5h-5.5 M163.3 282.3h-5.5 M163.3 269.1h-5.5 M163.3 255.9h-5.5 M163.3 242.7h-10 M163.3 229.5h-5.5 M163.3 216.3h-5.5 M163.3 203.1h-5.5 M163.3 189.9h-5.5 M163.3 176.7h-5.5 M163.3 163.5h-5.5 M163.3 150.3h-5.5 M163.3 137.1h-5.5 M163.3 123.9h-5.5 M163.3 110.7h-10 M1459.5 457.9h6 M1459.5 408.2h10 M1459.5 358.5h6 M1459.5 308.8h10 M1459.5 259h6 M1459.5 209.3h10 M1459.5 159.6h6 M1459.5 902.4h10 M1459.5 889.2h5.5 M1459.5 876h5.5 M1459.5 862.8h5.5 M1459.5 849.6h5.5 M1459.5 836.4h10 M1459.5 823.2h5.5 M1459.5 810h5.5 M1459.5 796.8h5.5 M1459.5 783.6h5.5 M1459.5 770.4h10 M1459.5 757.2h5.5 M1459.5 744h5.5 M1459.5 730.8h5.5 M1459.5 717.6h5.5 M1459.5 704.4h10 M1459.5 691.2h5.5 M1459.5 678h5.5 M1459.5 664.8h5.5 M1459.5 651.6h5.5 M1459.5 638.4h10 M1459.5 625.2h5.5 M1459.5 612h5.5 M1459.5 598.8h5.5 M1459.5 585.6h5.5 M1459.5 572.4h10 M1459.5 559.2h5.5 M1459.5 546h5.5 M1459.5 532.8h5.5 M1459.5 519.6h5.5"/>
</g>
<g stroke="#5fbfbf" stroke-width="1.8" fill="none">
<path d="M1346.1 110.7V507M1329.5 110.7H1362M1329.5 507H1362M325.5 308.8H1362"/>
<path stroke-width="1.2" d="M1346 150.3 H1354 M1346 190 H1354 M1346 229.6 H1354 M1346 269.2 H1354 M1346 348.5 H1354 M1346 388.1 H1354 M1346 427.7 H1354 M1346 467.4 H1354"/>
</g>
<text transform="translate(1387.1,403.8) rotate(-90)" font-size="24">1 DIV = 0.5 hPa/h</text>
<text transform="translate(1427.1,402.8) rotate(-90)" font-size="24">average = 0.6553</text>
<rect x="167" y="18.3" width="372.7" height="162.8" fill="#fff" stroke="#808080" stroke-width="1.2"/>
<path d="M203.8 39.3H260.3" stroke="#3c3cff" stroke-width="1"/>
<circle cx="232.2" cy="39.3" r="4.1" fill="#0000ff"/>
<path d="M203.8 69.4H260.3" stroke="#30cccc" stroke-width="1"/>
<circle cx="232.2" cy="69.4" r="4.1" fill="#00c8c8"/>
<path d="M203.8 100.2H260.3" stroke="#000" stroke-width="2.6"/>
<path d="M203.8 130.4H260.3" stroke="#bababa" stroke-width="2.8"/>
<path d="M203.8 161.3H260.3" stroke="#ff4040" stroke-width="1"/>
<circle cx="232.2" cy="161.3" r="4.1" fill="#ff0000"/>
<text x="278.6" y="47.8" font-size="24">Pressure</text>
<text x="278.6" y="77.9" font-size="24">dP/dt low-passed</text>
<text x="278.6" y="108.5" font-size="24">Residual</text>
<text x="278.6" y="139" font-size="24">... last 10 min.</text>
<text x="278.6" y="169.9" font-size="24">Theor.Tide</text>
<text x="559.8" y="82.5" font-size="32.3" font-weight="bold">SCG_054 gravimeter Onsala Space Observatory, Sweden</text>
<text x="193" y="888.8" font-size="27.9" font-weight="bold">The latest 1-hour, 1-second sampling</text>
<text x="1431" y="888.8" font-size="27.9" font-weight="bold" text-anchor="end">End at 2025-10-12 18:00:59 UTC</text>
<text x="163.3" y="944.3" font-size="28" text-anchor="middle">-10</text>
<text x="325.3" y="944.3" font-size="28" text-anchor="middle">0</text>
<text x="487.4" y="944.3" font-size="28" text-anchor="middle">10</text>
<text x="649.4" y="944.3" font-size="28" text-anchor="middle">20</text>
<text x="811.4" y="944.3" font-size="28" text-anchor="middle">30</text>
<text x="973.4" y="944.3" font-size="28" text-anchor="middle">40</text>
<text x="1135.5" y="944.3" font-size="28" text-anchor="middle">50</text>
<text x="1297.5" y="944.3" font-size="28" text-anchor="middle">60</text>
<text x="1459.5" y="944.3" font-size="28" text-anchor="middle">70</text>
<text x="142.6" y="912.7" font-size="28" text-anchor="end">-300</text>
<text x="142.6" y="780.7" font-size="28" text-anchor="end">-200</text>
<text x="142.6" y="648.8" font-size="28" text-anchor="end">-100</text>
<text x="142.6" y="516.8" font-size="28" text-anchor="end">0</text>
<text x="142.6" y="384.8" font-size="28" text-anchor="end">100</text>
<text x="142.6" y="252.9" font-size="28" text-anchor="end">200</text>
<text x="142.6" y="120.9" font-size="28" text-anchor="end">300</text>
<text x="1480.5" y="418.4" font-size="28">1022</text>
<text x="1480.5" y="318.9" font-size="28">1024</text>
<text x="1480.5" y="219.5" font-size="28">1026</text>
<text x="1551.8" y="912.6" font-size="28" text-anchor="end">-1500</text>
<text x="1551.8" y="846.6" font-size="28" text-anchor="end">-1000</text>
<text x="1551.8" y="780.6" font-size="28" text-anchor="end">-500</text>
<text x="1551.8" y="714.6" font-size="28" text-anchor="end">0</text>
<text x="1551.8" y="648.6" font-size="28" text-anchor="end">500</text>
<text x="1551.8" y="582.6" font-size="28" text-anchor="end">1000</text>
<text x="358.9" y="1005.9" font-size="48">Time [min] from 2025-10-12 17:01:00 UTC</text>
<text transform="translate(59.2,733.2) rotate(-90)" font-size="48">Obs’d Gravity [nm/s<tspan font-size="34" dy="-16">2</tspan><tspan dy="16">]</tspan></text>
<text transform="translate(1603.3,469) rotate(-90)" font-size="48">Pressure [hPa]</text>
<text transform="translate(1613.6,831.8) rotate(-90)" font-size="48">Tide [nm/s<tspan font-size="34" dy="-16">2</tspan><tspan dy="16">]</tspan></text>
</svg></body></html>
